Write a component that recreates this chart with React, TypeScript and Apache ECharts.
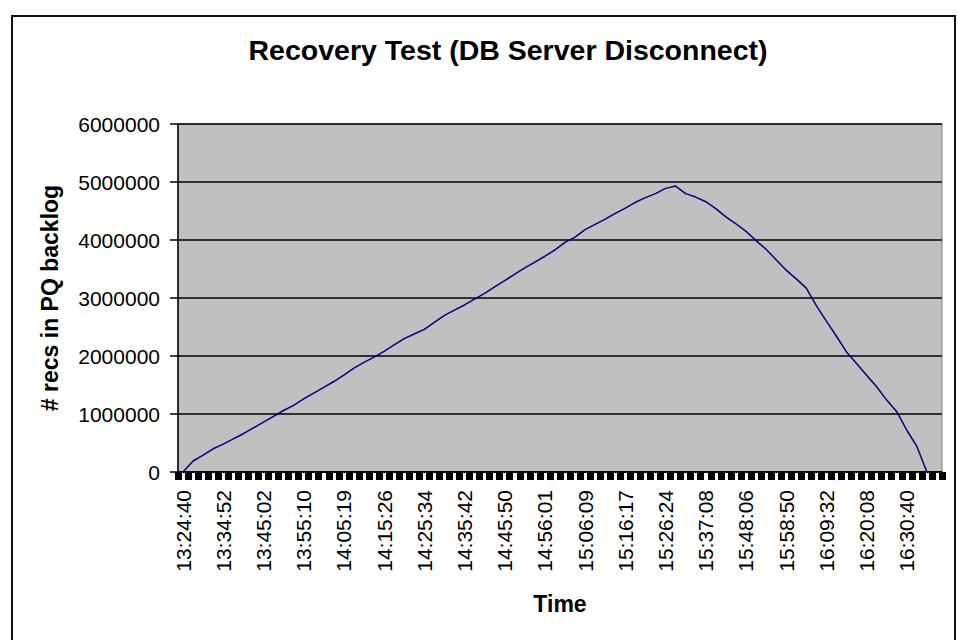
import React, { useEffect, useRef } from "react";
import * as echarts from "echarts";

const chartTitle = "Recovery Test (DB Server Disconnect)";
const xAxisName = "Time";
const yAxisName = "# recs in PQ backlog";

// Time labels shown on the category axis (one every 4 samples)
const timeLabels = [
  "13:24:40", "13:34:52", "13:45:02", "13:55:10", "14:05:19", "14:15:26",
  "14:25:34", "14:35:42", "14:45:50", "14:56:01", "15:06:09", "15:16:17",
  "15:26:24", "15:37:08", "15:48:06", "15:58:50", "16:09:32", "16:20:08",
  "16:30:40",
];
const samplesPerLabel = 4;

// Records in PQ backlog (one value per sample)
const backlog: (number | null)[] = [
  0, 190000, 290000, 400000, 480000, 570000, 660000, 760000,
  860000, 960000, 1060000, 1150000, 1260000, 1360000, 1460000, 1560000,
  1670000, 1790000, 1890000, 1980000, 2080000, 2190000, 2300000, 2380000,
  2460000, 2580000, 2700000, 2790000, 2880000, 2980000, 3080000, 3190000,
  3300000, 3410000, 3520000, 3620000, 3720000, 3830000, 3960000, 4050000,
  4180000, 4270000, 4360000, 4460000, 4550000, 4650000, 4730000, 4800000,
  4890000, 4930000, 4800000, 4740000, 4660000, 4540000, 4400000, 4280000,
  4150000, 3990000, 3840000, 3660000, 3480000, 3330000, 3170000, 2870000,
  2600000, 2340000, 2070000, 1870000, 1670000, 1470000, 1240000, 1040000,
  720000, 440000, 0, null,
];

const yTicks = { min: 0, max: 6000000, interval: 1000000 };

export default function App() {
  const ref = useRef<HTMLDivElement>(null);

  useEffect(() => {
    if (!ref.current) return;
    const chart = echarts.init(ref.current, undefined, { renderer: "svg" });

    const categories = backlog.map((_, i) =>
      i % samplesPerLabel === 0 && timeLabels[i / samplesPerLabel] !== undefined
        ? timeLabels[i / samplesPerLabel]
        : ""
    );

    const font = "'Liberation Sans', Arial, sans-serif";

    chart.setOption({
      animation: false,
      backgroundColor: "#ffffff",
      textStyle: { fontFamily: font },
      title: {
        text: chartTitle,
        left: 503,
        top: 30,
        textAlign: "center",
        textStyle: {
          fontFamily: font,
          fontSize: 28.5,
          fontWeight: "bold",
          color: "#000",
        },
      },
      graphic: [
        {
          type: "rect",
          shape: { x: 12, y: 16, width: 943, height: 640 },
          style: { fill: "none", stroke: "#111", lineWidth: 2 },
          silent: true,
          z: 100,
        },
      ],
      grid: {
        left: 178,
        right: 16,
        top: 124,
        bottom: 168,
        show: true,
        backgroundColor: "#C0C0C0",
        borderColor: "#808080",
        borderWidth: 1,
      },
      xAxis: {
        type: "category",
        data: categories,
        boundaryGap: true,
        name: xAxisName,
        nameLocation: "middle",
        nameGap: 120,
        nameTextStyle: {
          fontFamily: font,
          fontSize: 23,
          fontWeight: "bold",
          color: "#000",
        },
        axisLine: { lineStyle: { color: "#000", width: 1.5 } },
        axisTick: {
          show: true,
          interval: 0,
          length: 8,
          lineStyle: { color: "#000", width: 7 },
        },
        axisLabel: {
          interval: samplesPerLabel - 1,
          rotate: 90,
          margin: 18,
          fontFamily: font,
          fontSize: 21,
          color: "#000",
        },
        splitLine: { show: false },
      },
      yAxis: {
        type: "value",
        min: yTicks.min,
        max: yTicks.max,
        interval: yTicks.interval,
        name: yAxisName,
        nameLocation: "middle",
        nameRotate: 90,
        nameGap: 117,
        nameTextStyle: {
          fontFamily: font,
          fontSize: 23,
          fontWeight: "bold",
          color: "#000",
        },
        axisLine: { show: true, lineStyle: { color: "#000", width: 1.5 } },
        axisTick: { show: true, length: 8, lineStyle: { color: "#000", width: 1.5 } },
        axisLabel: {
          margin: 18,
          fontFamily: font,
          fontSize: 21,
          color: "#000",
          formatter: (v: number) => String(v),
        },
        splitLine: { show: true, lineStyle: { color: "#000", width: 1.6 } },
      },
      series: [
        {
          type: "line",
          data: backlog,
          showSymbol: false,
          symbol: "none",
          connectNulls: false,
          lineStyle: { color: "#000080", width: 1.5 },
          itemStyle: { color: "#000080" },
          z: 5,
        },
      ],
    });

    return () => chart.dispose();
  }, []);

  return (
    <div
      ref={ref}
      style={{ position: "absolute", left: 0, top: 0, width: 958, height: 640 }}
    />
  );
}
